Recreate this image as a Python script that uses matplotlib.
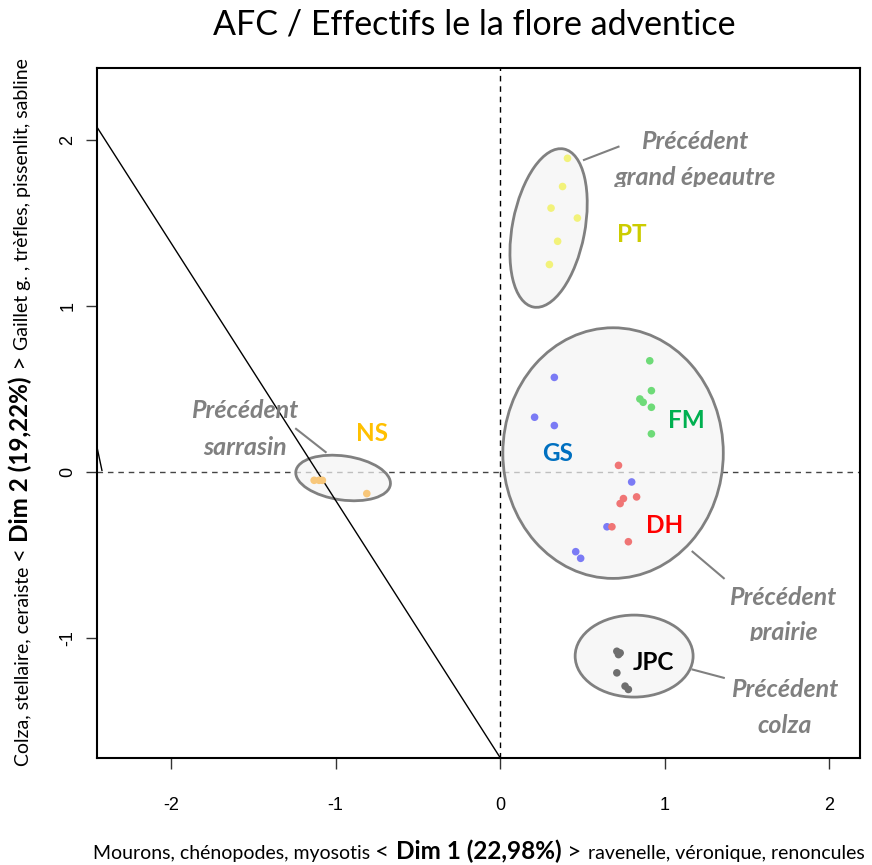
import matplotlib
matplotlib.use("Agg")
import matplotlib.pyplot as plt
from matplotlib.patches import Ellipse
from matplotlib.transforms import Bbox, TransformedBbox

# coordonnees des releves (Dim 1, Dim 2)
pt_x = [0.41, 0.38, 0.31, 0.47, 0.35, 0.30]
pt_y = [1.89, 1.72, 1.59, 1.53, 1.39, 1.25]
fm_x = [0.91, 0.92, 0.85, 0.87, 0.92, 0.92]
fm_y = [0.67, 0.49, 0.44, 0.42, 0.39, 0.23]
gs_x = [0.33, 0.21, 0.33, 0.80, 0.65, 0.46, 0.49]
gs_y = [0.57, 0.33, 0.28, -0.06, -0.33, -0.48, -0.52]
dh_x = [0.72, 0.83, 0.75, 0.73, 0.68, 0.78]
dh_y = [0.04, -0.15, -0.16, -0.19, -0.33, -0.42]
ns_x = [-1.13, -1.10, -1.08, -0.81]
ns_y = [-0.05, -0.05, -0.05, -0.13]
jpc_x = [0.71, 0.73, 0.72, 0.71, 0.76, 0.78]
jpc_y = [-1.08, -1.09, -1.10, -1.21, -1.29, -1.31]

groups = ["PT", "FM", "GS", "DH", "NS", "JPC"]
group_x = [pt_x, fm_x, gs_x, dh_x, ns_x, jpc_x]
group_y = [pt_y, fm_y, gs_y, dh_y, ns_y, jpc_y]
point_colors = ["#F2F27A", "#6EDB78", "#7B7BF5", "#F07575", "#F8C77A", "#6E6E6E"]
label_colors = ["#CCCC00", "#00B050", "#0070C0", "#FF0000", "#FFC000", "#000000"]
label_x = [0.80, 1.13, 0.35, 1.00, -0.78, 0.93]
label_y = [1.43, 0.31, 0.11, -0.32, 0.23, -1.15]

# ellipses des precedents : centre, largeur, hauteur, angle
ell_cx = [0.295, 0.687, -0.954, 0.815]
ell_cy = [1.47, 0.114, -0.036, -1.109]
ell_w = [0.44, 1.34, 0.58, 0.717]
ell_h = [0.97, 1.51, 0.265, 0.494]
ell_a = [-11, 0, -8, 0]

# textes "Précédent ..." : une ligne par entrée (lignes de base)
prec_lines = ["Précédent", "grand épeautre", "Précédent", "prairie",
              "Précédent", "colza", "Précédent", "sarrasin"]
prec_x = [1.185, 1.185, 1.72, 1.72, 1.733, 1.733, -1.55, -1.55]
prec_y = [1.946, 1.729, -0.801, -1.012, -1.355, -1.572, 0.325, 0.102]
prec_clip = [None, 1.72, None, -1.02, None, None, None, None]
# traits de rappel
link_x = [[0.51, 0.72], [1.17, 1.36], [1.17, 1.36]]
link_y = [[1.88, 1.96], [-0.48, -0.64], [-1.19, -1.24]]
link2_x = [-1.24, -1.06]
link2_y = [0.26, 0.12]

line_intercept = -1.72
line_slope = -1.55
seg_x = [-2.45, -2.42]
seg_y = [0.15, 0.01]

fig = plt.figure(figsize=(8.72, 8.65), dpi=100)
ax = fig.add_axes([97 / 872, 107 / 865, 763 / 872, 690 / 865])
ax.set_xlim(-2.45, 2.188)
ax.set_ylim(-1.723, 2.434)

ax.axvline(0, color="black", lw=1, ls=(0, (4, 3.5)), zorder=1)
ax.axhline(0, color="#444444", lw=1, ls=(0, (4, 3.5)), zorder=1)

for cx, cy, w, h, a in zip(ell_cx, ell_cy, ell_w, ell_h, ell_a):
    ax.add_patch(Ellipse((cx, cy), w, h, angle=a, facecolor=(0.955, 0.955, 0.955, 0.7),
                         edgecolor="#808080", lw=2, zorder=2))

ax.axline((0, line_intercept), slope=line_slope, color="black", lw=1, zorder=3)
ax.plot(seg_x, seg_y, color="black", lw=1, zorder=3)

for gx, gy, c in zip(group_x, group_y, point_colors):
    ax.scatter(gx, gy, s=30, color=c, edgecolors="none", zorder=4)

for g, x, y, c in zip(groups, label_x, label_y, label_colors):
    ax.text(x, y, g, color=c, fontsize=17.5, fontweight="bold", family="Lato",
            ha="center", va="center", zorder=5)

for t, x, y, clip in zip(prec_lines, prec_x, prec_y, prec_clip):
    txt = ax.text(x, y, t, color="#808080", fontsize=18, fontweight="bold", style="italic",
                  family="Lato", ha="center", va="baseline", zorder=5)
    if clip is not None:
        txt.set_clip_box(TransformedBbox(Bbox.from_extents(-3, clip, 3, 3), ax.transData))
        txt.set_clip_on(True)

for lx, ly in zip(link_x, link_y):
    ax.plot(lx, ly, color="#808080", lw=1.5, zorder=5, clip_on=False)
ax.plot(link2_x, link2_y, color="#808080", lw=1.5, zorder=5)

ax.set_xticks([-2, -1, 0, 1, 2])
ax.set_yticks([-1, 0, 1, 2])
ax.set_xticklabels(["-2", "-1", "0", "1", "2"], family="Liberation Sans", fontsize=13)
ax.set_yticklabels(["-1", "0", "1", "2"], family="Liberation Sans", fontsize=13,
                   rotation=90, va="center")
ax.tick_params(length=8, width=1, color="#333333")
ax.tick_params(axis="x", pad=20)
ax.tick_params(axis="y", pad=7)
for s in ax.spines.values():
    s.set_linewidth(1.5)

fig.text(474 / 872, 1 - 24 / 865, "AFC / Effectifs le la flore adventice", family="Lato",
         fontsize=24.5, ha="center", va="center")


def mixed_label(pieces, cx, cy, rotation=0):
    renderer = fig.canvas.get_renderer()
    texts = []
    for s, size, weight in pieces:
        t = fig.text(0, 0, s, fontsize=size, fontweight=weight, family="Lato",
                     rotation=rotation, rotation_mode="anchor", ha="left", va="baseline",
                     transform=None)
        texts.append(t)
    sizes = []
    for t in texts:
        bb = t.get_window_extent(renderer)
        sizes.append(bb.width if rotation == 0 else bb.height)
    total = sum(sizes)
    pos = -total / 2
    for t, w in zip(texts, sizes):
        if rotation == 0:
            t.set_position((cx + pos, cy))
        else:
            t.set_position((cx, cy + pos))
        pos += w


mixed_label([("Mourons, chénopodes, myosotis ", 14, "normal"), ("< ", 17.5, "normal"),
             ("Dim 1 (22,98%)", 17.5, "bold"), (" > ", 17.5, "normal"),
             ("ravenelle, véronique, renoncules", 14, "normal")], 479, 6)
mixed_label([("Colza, stellaire, ceraiste ", 14, "normal"), ("< ", 17.5, "normal"),
             ("Dim 2 (19,22%)", 17.5, "bold"), (" > ", 17.5, "normal"),
             ("Gaillet g. , trèfles, pissenlit, sabline", 14, "normal")], 28, 865 - 412, rotation=90)

fig.savefig("out.png", dpi=100)
